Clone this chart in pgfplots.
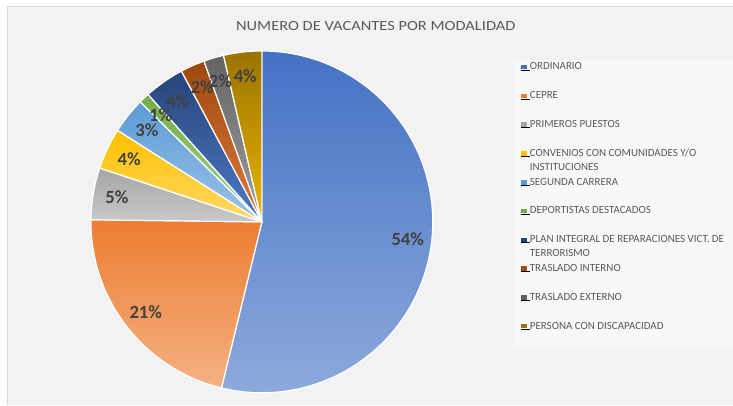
\documentclass[border=0pt]{standalone}
\usepackage{fontspec}
\setmainfont{Carlito}
\newfontfamily\titlefont[FakeStretch=1.18]{Carlito}
\usepackage{pgfplots}
\usepackage{pgfplotstable}
\pgfplotsset{compat=1.18}
\definecolor{top0}{HTML}{4472C4}\definecolor{bot0}{HTML}{8FAADC}
\definecolor{top1}{HTML}{ED7D31}\definecolor{bot1}{HTML}{F4B183}
\definecolor{top2}{HTML}{A5A5A5}\definecolor{bot2}{HTML}{C9C9C9}
\definecolor{top3}{HTML}{FFC000}\definecolor{bot3}{HTML}{FFD966}
\definecolor{top4}{HTML}{5B9BD5}\definecolor{bot4}{HTML}{9DC3E6}
\definecolor{top5}{HTML}{70AD47}\definecolor{bot5}{HTML}{A9D18E}
\definecolor{top6}{HTML}{264478}\definecolor{bot6}{HTML}{4F7AC8}
\definecolor{top7}{HTML}{9E480E}\definecolor{bot7}{HTML}{E07B3A}
\definecolor{top8}{HTML}{636363}\definecolor{bot8}{HTML}{A0A0A0}
\definecolor{top9}{HTML}{997300}\definecolor{bot9}{HTML}{EDB400}
\definecolor{bgc}{HTML}{F2F2F2}
\definecolor{bordc}{HTML}{D9D9D9}
\definecolor{legbg}{HTML}{F8F8F8}
\definecolor{legtext}{HTML}{595959}
\definecolor{titlec}{HTML}{595959}
\definecolor{labc}{HTML}{404040}

\pgfplotstableread[col sep=comma]{
modalidad,value
ORDINARIO,53.8
CEPRE,21.4
PRIMEROS PUESTOS,4.9
CONVENIOS,3.9
SEGUNDA CARRERA,3.4
DEPORTISTAS,1.0
PLAN INTEGRAL,3.8
TRASLADO INTERNO,2.3
TRASLADO EXTERNO,1.9
PERSONA CON DISCAPACIDAD,3.6
}\piedata

\begin{document}
\begin{tikzpicture}
\begin{axis}[
  x=1bp, y=1bp, xmin=0, xmax=733, ymin=0, ymax=405,
  hide axis, clip=false,
  legend cell align=left,
  legend style={at={(0.71146,0.84691)}, anchor=north west, draw=none, fill=none,
    inner sep=0pt, outer sep=0pt, font=\fontsize{11}{14}\selectfont, text=legtext,
    row sep=0pt, cells={anchor=base west},
    nodes={inner sep=0pt, text height=8bp, text depth=20.8bp}},
]
\pgfplotsextra{
  \fill[white] (axis cs:0,0) rectangle (axis cs:733,405);
  \fill[bgc] (axis cs:7,0) rectangle (axis cs:733,399);
  \draw[bordc, line width=0.8bp] (axis cs:7,0) -- (axis cs:7,399) -- (axis cs:733,399);
  \fill[legbg] (axis cs:513,58) rectangle (axis cs:733,345);
  \node[anchor=base, inner sep=0pt, text=titlec, font=\titlefont\fontsize{14}{16}\selectfont]
    at (axis cs:376,374.3) {NUMERO DE VACANTES POR MODALIDAD};
  % slices
  \gdef\angA{90}
  \pgfplotstablegetrowsof{\piedata}
  \pgfmathtruncatemacro\N{\pgfplotsretval-1}
  \foreach \i in {0,...,\N}{
    \pgfplotstablegetelem{\i}{value}\of\piedata
    \let\v\pgfplotsretval
    \pgfmathsetmacro\angB{\angA-3.6*\v}
    \path[top color=top\i, bottom color=bot\i, draw=white, line width=1.2bp, line join=round]
      (axis cs:262,183) -- ++(\angA:171bp) arc[start angle=\angA, end angle=\angB, radius=171bp] -- cycle;
    \xdef\angA{\angB}
  }
  % labels
  \gdef\angA{90}
  \foreach \i in {0,...,\N}{
    \pgfplotstablegetelem{\i}{value}\of\piedata
    \let\v\pgfplotsretval
    \pgfmathsetmacro\angB{\angA-3.6*\v}
    \pgfmathsetmacro\angM{(\angA+\angB)/2}
    \pgfmathsetmacro\lx{262+147*cos(\angM)}
    \pgfmathsetmacro\ly{183+147*sin(\angM)}
    \pgfmathtruncatemacro\r{round(\v)}
    \node[inner sep=0pt, text=labc, font=\bfseries\fontsize{18.7}{20}\selectfont] at (axis cs:\lx,\ly) {\r\%};
    \xdef\angA{\angB}
  }
}
\addlegendimage{legend image code/.code={\fill[top0] (0bp,1.4bp) rectangle (4.5bp,4.9bp); \path (0bp,0bp) -- (8.3bp,0bp);}}
\addlegendentry{ORDINARIO}
\addlegendimage{legend image code/.code={\fill[top1] (0bp,1.4bp) rectangle (4.5bp,4.9bp); \path (0bp,0bp) -- (8.3bp,0bp);}}
\addlegendentry{CEPRE}
\addlegendimage{legend image code/.code={\fill[top2] (0bp,1.4bp) rectangle (4.5bp,4.9bp); \path (0bp,0bp) -- (8.3bp,0bp);}}
\addlegendentry{PRIMEROS PUESTOS}
\addlegendimage{legend image code/.code={\fill[top3] (0bp,1.4bp) rectangle (4.5bp,4.9bp); \path (0bp,0bp) -- (8.3bp,0bp);}}
\addlegendentry{\parbox[t]{195bp}{\mbox{CONVENIOS CON COMUNIDADES Y/O}\\INSTITUCIONES}}
\addlegendimage{legend image code/.code={\fill[top4] (0bp,1.4bp) rectangle (4.5bp,4.9bp); \path (0bp,0bp) -- (8.3bp,0bp);}}
\addlegendentry{SEGUNDA CARRERA}
\addlegendimage{legend image code/.code={\fill[top5] (0bp,1.4bp) rectangle (4.5bp,4.9bp); \path (0bp,0bp) -- (8.3bp,0bp);}}
\addlegendentry{DEPORTISTAS DESTACADOS}
\addlegendimage{legend image code/.code={\fill[top6] (0bp,1.4bp) rectangle (4.5bp,4.9bp); \path (0bp,0bp) -- (8.3bp,0bp);}}
\addlegendentry{\parbox[t]{195bp}{\mbox{PLAN INTEGRAL DE REPARACIONES VICT. DE}\\TERRORISMO}}
\addlegendimage{legend image code/.code={\fill[top7] (0bp,1.4bp) rectangle (4.5bp,4.9bp); \path (0bp,0bp) -- (8.3bp,0bp);}}
\addlegendentry{TRASLADO INTERNO}
\addlegendimage{legend image code/.code={\fill[top8] (0bp,1.4bp) rectangle (4.5bp,4.9bp); \path (0bp,0bp) -- (8.3bp,0bp);}}
\addlegendentry{TRASLADO EXTERNO}
\addlegendimage{legend image code/.code={\fill[top9] (0bp,1.4bp) rectangle (4.5bp,4.9bp); \path (0bp,0bp) -- (8.3bp,0bp);}}
\addlegendentry{PERSONA CON DISCAPACIDAD}
\end{axis}
\end{tikzpicture}
\end{document}
